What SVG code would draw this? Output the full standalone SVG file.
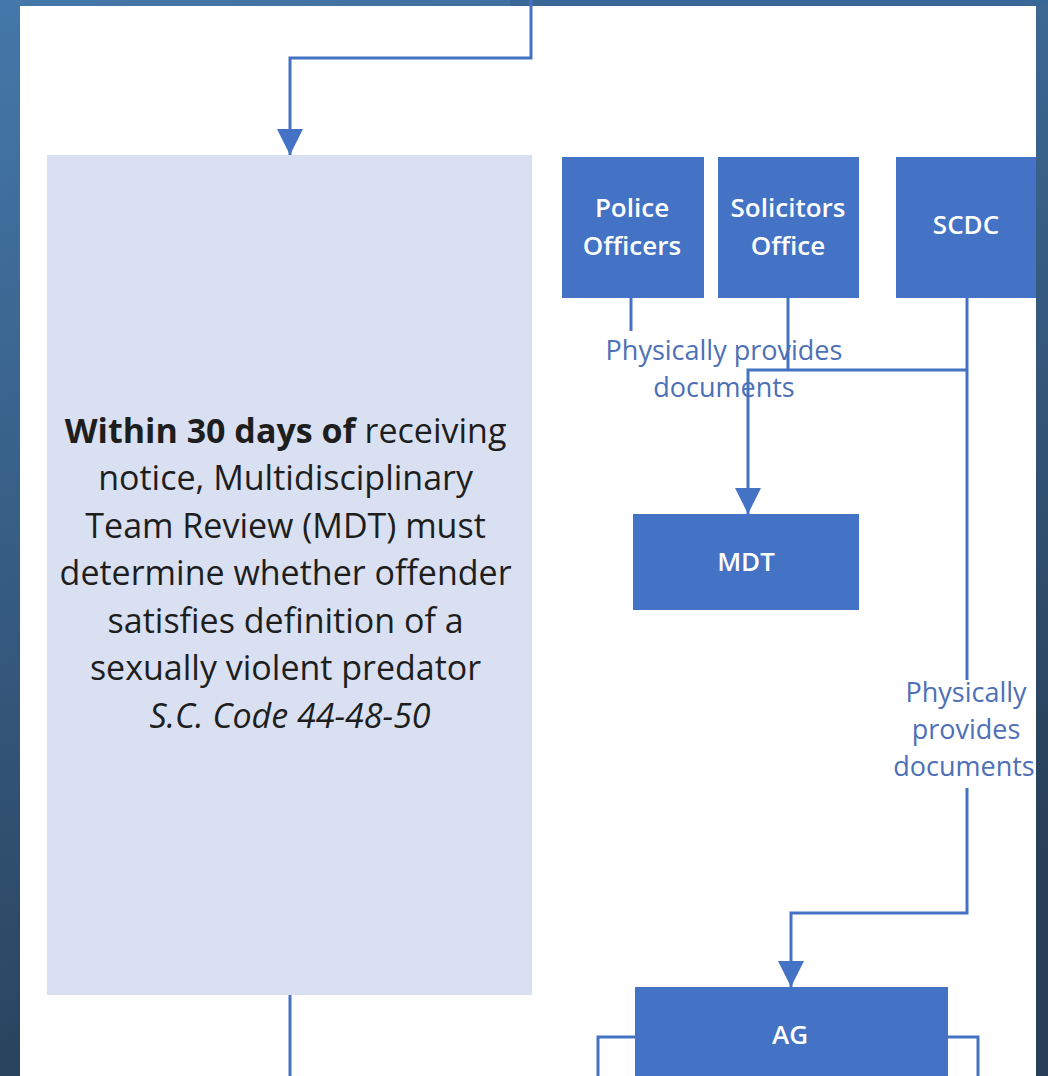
<svg xmlns="http://www.w3.org/2000/svg" width="1048" height="1076" viewBox="0 0 1048 1076">
<defs>
<linearGradient id="bg" x1="0" y1="0" x2="0.3" y2="1">
<stop offset="0" stop-color="#4478aa"/>
<stop offset="1" stop-color="#283f58"/>
</linearGradient>
<marker id="arr" markerUnits="userSpaceOnUse" markerWidth="26" markerHeight="26" refX="26" refY="13" orient="auto" viewBox="0 0 26 26">
<path d="M0,0 L26,13 L0,26 Z" fill="#4472C4"/>
</marker>
<style>
.conn{fill:none;stroke:#4472C4;stroke-width:3}
.node{fill:#4472C4}
.nt{font-family:"Open Sans","Liberation Sans",sans-serif;font-size:26px;font-weight:600;fill:#ffffff;text-anchor:middle}
.lbl{font-family:"Open Sans","Liberation Sans",sans-serif;font-size:27px;fill:#4d70b6;text-anchor:middle}
.bt{font-family:"Open Sans","Liberation Sans",sans-serif;font-size:34px;fill:#1e1e1e;text-anchor:middle}
</style>
</defs>
<rect x="0" y="0" width="1048" height="1076" fill="url(#bg)"/>
<rect x="510" y="0" width="538" height="6" fill="#3a6896"/>
<rect x="20" y="6" width="1016" height="1070" fill="#ffffff"/>

<g id="connectors">
<polyline class="conn" points="531,0 531,58 290,58 290,155" marker-end="url(#arr)"/>
<line class="conn" x1="631" y1="298" x2="631" y2="331"/>
<line class="conn" x1="788" y1="298" x2="788" y2="370"/>
<polyline class="conn" points="967,370 748,370 748,514" marker-end="url(#arr)"/>
<line class="conn" x1="967" y1="298" x2="967" y2="680"/>
<polyline class="conn" points="967,788 967,913 791,913 791,987" marker-end="url(#arr)"/>
<line class="conn" x1="290" y1="995" x2="290" y2="1076"/>
<polyline class="conn" points="635,1037 598,1037 598,1076"/>
<polyline class="conn" points="948,1037 978,1037 978,1076"/>
<text class="lbl"><tspan x="724" y="360">Physically provides</tspan><tspan x="724" y="397">documents</tspan></text>
<text class="lbl"><tspan x="966" y="702">Physically</tspan><tspan x="966" y="739">provides</tspan><tspan x="964" y="776">documents</tspan></text>
</g>

<g id="review">
<rect x="47" y="155" width="485" height="840" fill="#d9e0f1"/>
<text class="bt">
<tspan x="290" y="443"><tspan font-weight="bold">Within 30 days of</tspan> receiving</tspan>
<tspan x="290" y="490">notice, Multidisciplinary</tspan>
<tspan x="290" y="538">Team Review (MDT) must</tspan>
<tspan x="290" y="585">determine whether offender</tspan>
<tspan x="290" y="633">satisfies definition of a</tspan>
<tspan x="290" y="680">sexually violent predator</tspan>
<tspan x="290" y="728" font-style="italic">S.C. Code 44-48-50</tspan>
</text>
</g>

<g id="police">
<rect class="node" x="562" y="157" width="142" height="141"/>
<text class="nt"><tspan x="632" y="217">Police</tspan><tspan x="632" y="255">Officers</tspan></text>
</g>
<g id="solicitors">
<rect class="node" x="718" y="157" width="141" height="141"/>
<text class="nt"><tspan x="788" y="217">Solicitors</tspan><tspan x="788" y="255">Office</tspan></text>
</g>
<g id="scdc">
<rect class="node" x="896" y="157" width="140" height="141"/>
<text class="nt" x="966" y="234">SCDC</text>
</g>
<g id="mdt">
<rect class="node" x="633" y="514" width="226" height="96"/>
<text class="nt" x="746" y="571">MDT</text>
</g>
<g id="ag">
<rect class="node" x="635" y="987" width="313" height="89"/>
<text class="nt" x="790" y="1044">AG</text>
</g>
</svg>
